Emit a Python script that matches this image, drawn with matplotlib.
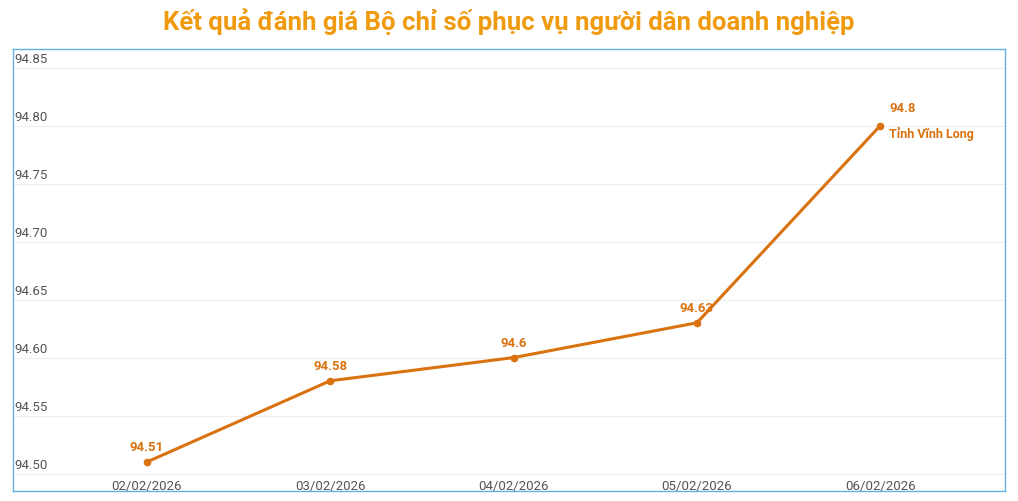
import matplotlib
matplotlib.use("Agg")
import matplotlib.pyplot as plt

dates = ["02/02/2026", "03/02/2026", "04/02/2026", "05/02/2026", "06/02/2026"]
values = [94.51, 94.58, 94.6, 94.63, 94.8]
labels = ["94.51", "94.58", "94.6", "94.63", "94.8"]
yticks = [94.50, 94.55, 94.60, 94.65, 94.70, 94.75, 94.80, 94.85]
color = "#d9720f"

plt.rcParams['font.family'] = ['Roboto', 'DejaVu Sans']
fig = plt.figure(figsize=(10.18, 5.02), dpi=100)
ax = fig.add_axes([13/1018, 10/502, 992/1018, 442/502])
x = list(range(len(dates)))
ax.plot(x, values, color=color, lw=2.2, marker='o', ms=4.5, zorder=3)
ax.set_xlim(-0.73, 4.68)
ax.set_ylim(94.485, 94.866)
for s in ax.spines.values():
    s.set_color("#62b0e0"); s.set_linewidth(1)
for yt in yticks:
    ax.axhline(yt, color="#eeeeee", lw=0.8, zorder=0)
    ax.text(-0.72, yt + 0.002, f"{yt:.2f}", fontsize=9.5, color="#555555", va='bottom', ha='left')
ax.set_xticks([]); ax.set_yticks([])
for xi, d in zip(x, dates):
    ax.text(xi, 94.4895, d, fontsize=9.5, color="#555555", ha='center', va='center')
for xi, v, l in zip(x, values, labels):
    if xi == 4:
        ax.text(xi + 0.05, v + 0.016, l, color=color, fontsize=9.5, fontweight='bold', ha='left', va='center')
        ax.text(xi + 0.05, v - 0.006, "Tỉnh Vĩnh Long", color=color, fontsize=9, fontweight='bold', ha='left', va='center')
    else:
        ax.text(xi, v + 0.013, l, color=color, fontsize=9.5, fontweight='bold', ha='center', va='center')
fig.text(0.5, 1 - 22/502, "Kết quả đánh giá Bộ chỉ số phục vụ người dân doanh nghiệp",
         ha='center', va='center', fontsize=18.5, fontweight='bold', color="#f09a10")
fig.savefig("out.png", dpi=100)
